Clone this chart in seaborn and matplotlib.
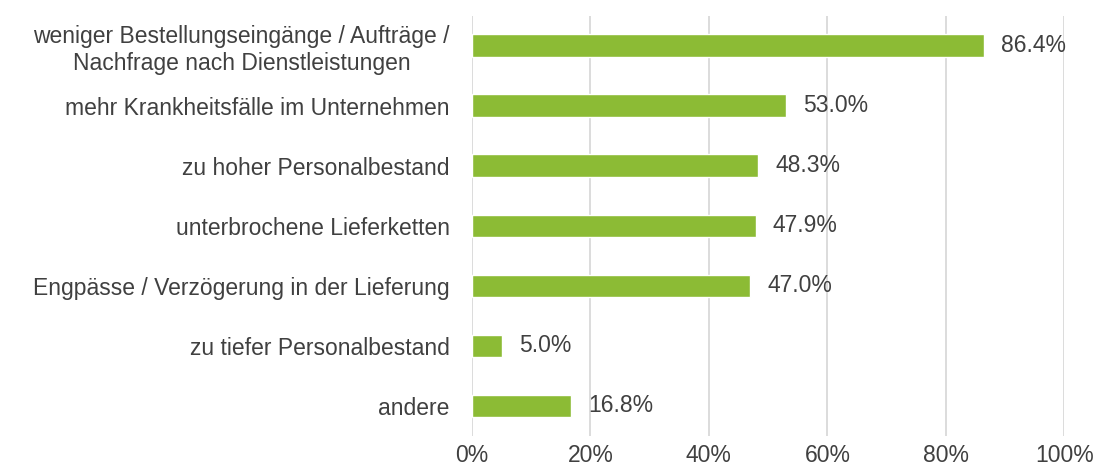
import matplotlib
matplotlib.use("Agg")
import matplotlib.pyplot as plt
import seaborn as sns
import pandas as pd

categories = [
    "weniger Bestellungseingänge / Aufträge /\nNachfrage nach Dienstleistungen",
    "mehr Krankheitsfälle im Unternehmen",
    "zu hoher Personalbestand",
    "unterbrochene Lieferketten",
    "Engpässe / Verzögerung in der Lieferung",
    "zu tiefer Personalbestand",
    "andere",
]
values = [86.4, 53.0, 48.3, 47.9, 47.0, 5.0, 16.8]
xticks = [0, 20, 40, 60, 80, 100]
xtick_labels = ["0%", "20%", "40%", "60%", "80%", "100%"]

sns.set_theme(style="white")
plt.rcParams['font.family'] = ['Liberation Sans', 'DejaVu Sans']

df = pd.DataFrame({"cat": categories, "val": values})
fig = plt.figure(figsize=(10.95, 4.71), dpi=100)
ax = fig.add_axes([0.431, 0.075, 0.541, 0.892])
sns.barplot(data=df, y="cat", x="val", orient="h", color="#8CBB35",
            saturation=1, width=0.37, ax=ax, zorder=3)
ax.set_xlim(0, 100)
ax.set_xticks(xticks)
ax.set_xticklabels(xtick_labels)
ax.set_xlabel("")
ax.set_ylabel("")
ax.grid(axis="x", color="#D9D9D9", linewidth=1.3, zorder=0)
ax.set_axisbelow(True)
for s in ax.spines.values():
    s.set_visible(False)
ax.tick_params(axis="both", length=0, labelsize=16.5, colors="#404040")
ax.tick_params(axis="y", pad=16)
ax.tick_params(axis="x", pad=6)
for lbl in ax.get_yticklabels():
    lbl.set_multialignment("center")
for i, v in enumerate(values):
    ax.text(v + 2.9, i, f"{v:.1f}%", va="center", ha="left", fontsize=16.5, color="#404040")
fig.savefig("out.png", dpi=100)
